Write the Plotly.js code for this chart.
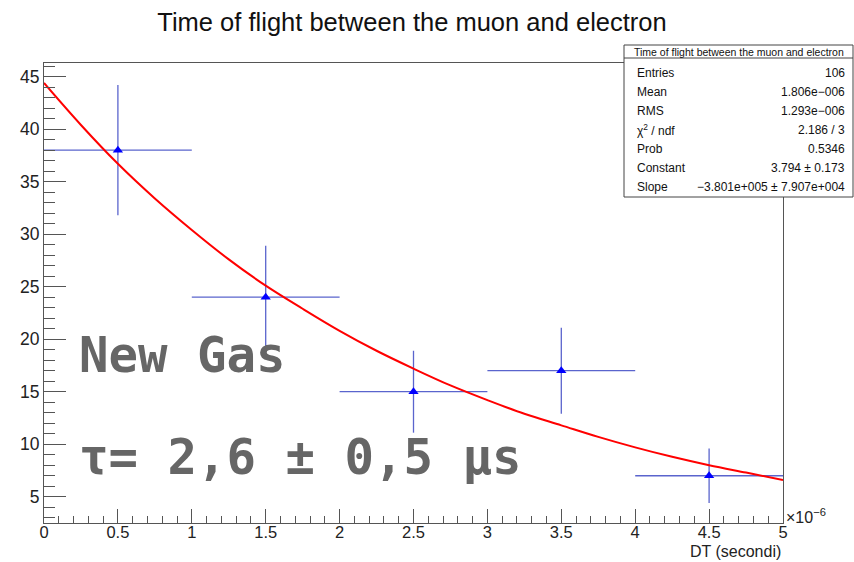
<!DOCTYPE html>
<html>
<head>
<meta charset="utf-8">
<script src="https://cdn.plot.ly/plotly-3.0.1.min.js"></script>
<style>html,body{margin:0;padding:0;background:#fff;}#chart{width:854px;height:562px;}</style>
</head>
<body>
<div id="chart"></div>
<script>
// ---- data (x in units of 1e-6 s) ----
const binCenters = [0.5, 1.5, 2.5, 3.5, 4.5];
const binHalfWidth = [0.5, 0.5, 0.5, 0.5, 0.5];
const counts = [38, 24, 15, 17, 7];
const countErr = [6.2, 4.9, 3.9, 4.1, 2.6];

// fitted exponential curve
const fitX = [0, 0.25, 0.5, 0.75, 1, 1.25, 1.5, 1.75, 2, 2.25, 2.5, 2.75, 3, 3.25, 3.5, 3.75, 4, 4.25, 4.5, 4.75, 5];
const fitY = [44.4, 40.4, 36.7, 33.4, 30.4, 27.6, 25.1, 22.9, 20.8, 18.9, 17.2, 15.6, 14.2, 12.9, 11.8, 10.7, 9.7, 8.8, 8.0, 7.3, 6.6];

const chartTitle = "Time of flight between the muon and electron";
const xTitle = "DT (secondi)";
const xExponent = "×10<sup>−6</sup>";

const statLabels = ["Entries", "Mean", "RMS", "χ<sup>2</sup> / ndf", "Prob", "Constant", "Slope"];
const statValues = ["106", "1.806e−006", "1.293e−006", "2.186 / 3", "0.5346", "3.794 ± 0.173", "−3.801e+005 ± 7.907e+004"];

const noteLines = ["New Gas", "τ= 2,6 ± 0,5 μs"];

// ---- geometry helpers (pixel -> paper) ----
const L = 44, R = 783, T = 63, B = 523;
const W = 854, H = 562;
const px = v => (v - L) / (R - L);
const py = v => (B - v) / (B - T);

const axisColor = '#555';
const sans = 'Liberation Sans, Arial, sans-serif';

const traces = [
  {
    x: binCenters, y: counts, type: 'scatter', mode: 'markers',
    marker: {symbol: 'triangle-up', color: '#0000ff', size: 9},
    error_y: {type: 'data', array: countErr, visible: true, color: 'rgb(90,100,205)', thickness: 1.3, width: 0},
    error_x: {type: 'data', array: binHalfWidth, visible: true, color: 'rgb(90,100,205)', thickness: 1.3, width: 0},
    hoverinfo: 'skip', showlegend: false
  },
  {
    x: fitX, y: fitY, type: 'scatter', mode: 'lines',
    line: {color: '#ff0000', width: 2, shape: 'spline'},
    hoverinfo: 'skip', showlegend: false
  }
];

const annotations = [];
const shapes = [];

// x-axis title and exponent
annotations.push({xref: 'paper', yref: 'paper', x: px(783), y: py(561.5), xanchor: 'right', yanchor: 'bottom',
  text: xTitle, showarrow: false, font: {family: sans, size: 16, color: '#222'}});
annotations.push({xref: 'paper', yref: 'paper', x: px(784), y: py(516), xanchor: 'left', yanchor: 'middle',
  text: xExponent, showarrow: false, font: {family: sans, size: 16, color: '#222'}});

// big gray notes
annotations.push({xref: 'paper', yref: 'paper', x: px(77), y: py(355), xanchor: 'left', yanchor: 'middle',
  text: noteLines[0], showarrow: false, font: {family: 'DejaVu Sans Mono, monospace', size: 49, color: '#666', weight: 'bold'}});
annotations.push({xref: 'paper', yref: 'paper', x: px(77), y: py(457), xanchor: 'left', yanchor: 'middle',
  text: noteLines[1], showarrow: false, font: {family: 'DejaVu Sans Mono, monospace', size: 49, color: '#666', weight: 'bold'}});

// stats box
const boxL = 624, boxR = 853, boxT = 45, boxB = 197, boxSep = 58;
shapes.push({type: 'rect', xref: 'paper', yref: 'paper', x0: px(boxL), x1: px(boxR), y0: py(boxB), y1: py(boxT),
  fillcolor: '#fff', line: {color: '#444', width: 1}, layer: 'above'});
shapes.push({type: 'line', xref: 'paper', yref: 'paper', x0: px(boxL), x1: px(boxR), y0: py(boxSep), y1: py(boxSep),
  line: {color: '#444', width: 1}, layer: 'above'});
annotations.push({xref: 'paper', yref: 'paper', x: px((boxL + boxR) / 2), y: py(51.5), xanchor: 'center', yanchor: 'middle',
  text: chartTitle, showarrow: false, font: {family: sans, size: 10.5, color: '#111'}});
statLabels.forEach((lab, i) => {
  const yy = 72.7 + i * 19.08;
  annotations.push({xref: 'paper', yref: 'paper', x: px(635), y: py(yy), xanchor: 'left', yanchor: 'middle',
    text: lab, showarrow: false, font: {family: sans, size: 12, color: '#111'}});
  annotations.push({xref: 'paper', yref: 'paper', x: px(847), y: py(yy), xanchor: 'right', yanchor: 'middle',
    text: statValues[i], showarrow: false, font: {family: sans, size: 12, color: '#111'}});
});

const layout = {
  width: W, height: H,
  margin: {l: L, r: W - R, t: T, b: H - B, pad: 0},
  paper_bgcolor: '#fff', plot_bgcolor: '#fff',
  title: {text: chartTitle, xref: 'container', yref: 'container', x: 412 / W, y: 1 - 22 / H,
    xanchor: 'center', yanchor: 'middle', font: {family: sans, size: 25.5, color: '#111'}},
  xaxis: {
    range: [0, 5], dtick: 0.5, tick0: 0, showgrid: false, zeroline: false,
    showline: true, linecolor: axisColor, linewidth: 1, mirror: true,
    ticks: 'inside', ticklen: 14, tickcolor: axisColor, tickwidth: 1, ticklabelstandoff: -6,
    minor: {dtick: 0.1, tick0: 0, ticks: 'inside', ticklen: 7, tickcolor: axisColor, tickwidth: 1, showgrid: false},
    tickfont: {family: sans, size: 16.5, color: '#222'}
  },
  yaxis: {
    range: [2.5, 46.3], dtick: 5, tick0: 0, showgrid: false, zeroline: false,
    showline: true, linecolor: axisColor, linewidth: 1, mirror: true,
    ticks: 'inside', ticklen: 22, tickcolor: axisColor, tickwidth: 1,
    minor: {dtick: 1, tick0: 0, ticks: 'inside', ticklen: 11, tickcolor: axisColor, tickwidth: 1, showgrid: false},
    tickfont: {family: sans, size: 17.5, color: '#222'}
  },
  annotations: annotations,
  shapes: shapes
};

Plotly.newPlot('chart', traces, layout, {displayModeBar: false, staticPlot: true});
</script>
</body>
</html>
